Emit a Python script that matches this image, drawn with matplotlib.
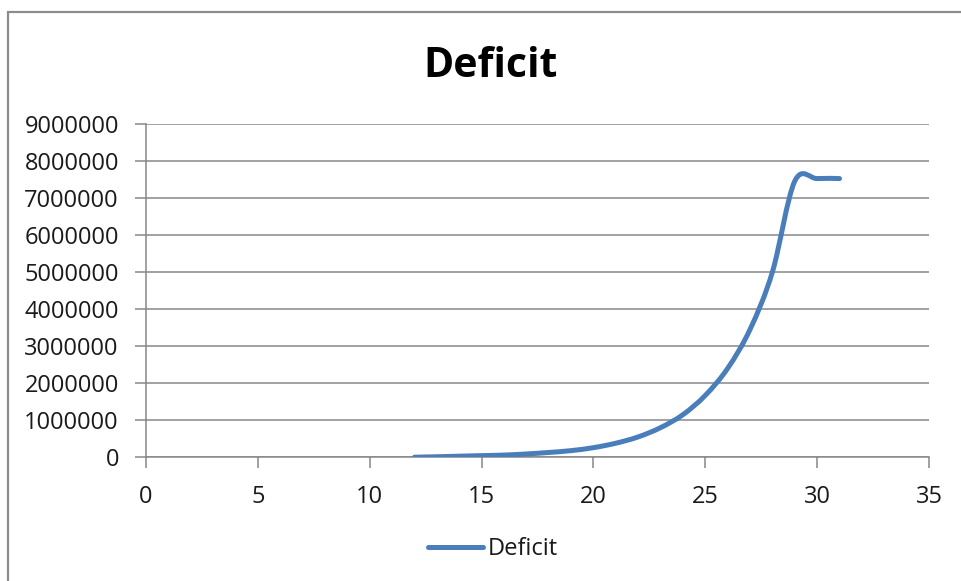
import numpy as np
import matplotlib.pyplot as plt
from matplotlib.path import Path
from matplotlib.patches import PathPatch, Rectangle
from matplotlib.lines import Line2D

plt.rcParams['font.family'] = ['Open Sans', 'DejaVu Sans']

# data
years = [12, 13, 14, 15, 16, 17, 18, 19, 20, 21, 22, 23, 24, 25, 26, 27, 28, 29, 30, 31]
deficit = [3000, 15000, 30000, 45000, 60000, 90000, 130000, 180000, 260000, 380000,
           550000, 800000, 1150000, 1670000, 2400000, 3450000, 5000000, 7450000, 7520000, 7520000]
xticks = [0, 5, 10, 15, 20, 25, 30, 35]
yticks = [0, 1000000, 2000000, 3000000, 4000000, 5000000, 6000000, 7000000, 8000000, 9000000]

blue = '#4A7EBB'
grey = '#878787'


def smooth_path(xs, ys):
    # excel style smoothed line: bezier segments with catmull-rom control points
    pts = np.column_stack([xs, ys]).astype(float)
    n = len(pts)
    verts = [pts[0]]
    codes = [Path.MOVETO]
    for i in range(n - 1):
        p0 = pts[max(i - 1, 0)]
        p1 = pts[i]
        p2 = pts[i + 1]
        p3 = pts[min(i + 2, n - 1)]
        verts += [p1 + (p2 - p0) / 6, p2 - (p3 - p1) / 6, p2]
        codes += [Path.CURVE4] * 3
    return Path(verts, codes)


fig = plt.figure(figsize=(9.62, 5.81), dpi=100)
ax = fig.add_axes([146 / 962, 1 - 457.3 / 581, (929 - 146) / 962, (457.3 - 123.7) / 581])

ax.add_patch(PathPatch(smooth_path(years, deficit), fill=False, edgecolor=blue,
                       lw=3.6, capstyle='round', joinstyle='round', zorder=3))

ax.set_xlim(0, 35)
ax.set_ylim(0, 9000000)
ax.set_xticks(xticks)
ax.set_xticklabels([str(t) for t in xticks])
ax.set_yticks(yticks)
ax.set_yticklabels([str(t) for t in yticks])
ax.yaxis.grid(True, color=grey, lw=1.1)
ax.set_axisbelow(True)

for s in ['top', 'right']:
    ax.spines[s].set_visible(False)
for s in ['left', 'bottom']:
    ax.spines[s].set_color(grey)
    ax.spines[s].set_linewidth(1.1)

ax.tick_params(axis='both', direction='out', length=8, width=1.1, color=grey,
               labelsize=17, labelcolor='#1a1a1a')
ax.tick_params(axis='y', pad=11.5)
ax.tick_params(axis='x', pad=12)

fig.text(0.5097, 1 - 76.7 / 581, 'Deficit', ha='center', va='baseline',
         fontsize=29.5, fontweight='bold', color='black')

handle = Line2D([], [], color=blue, lw=3.6, solid_capstyle='round')
fig.legend([handle], ['Deficit'], loc='center', bbox_to_anchor=(0.5125, 1 - 549 / 581),
           frameon=False, fontsize=17, handlelength=2.3, handletextpad=0.2,
           labelcolor='#1a1a1a')

# chart area border (clipped at right and bottom in the original)
fig.add_artist(Rectangle((8 / 962, -0.1), 1.2, 1.1 - 11.5 / 581, transform=fig.transFigure,
                         fill=False, edgecolor='#8c8c8c', lw=1.6))

fig.savefig('out.png', dpi=100)
